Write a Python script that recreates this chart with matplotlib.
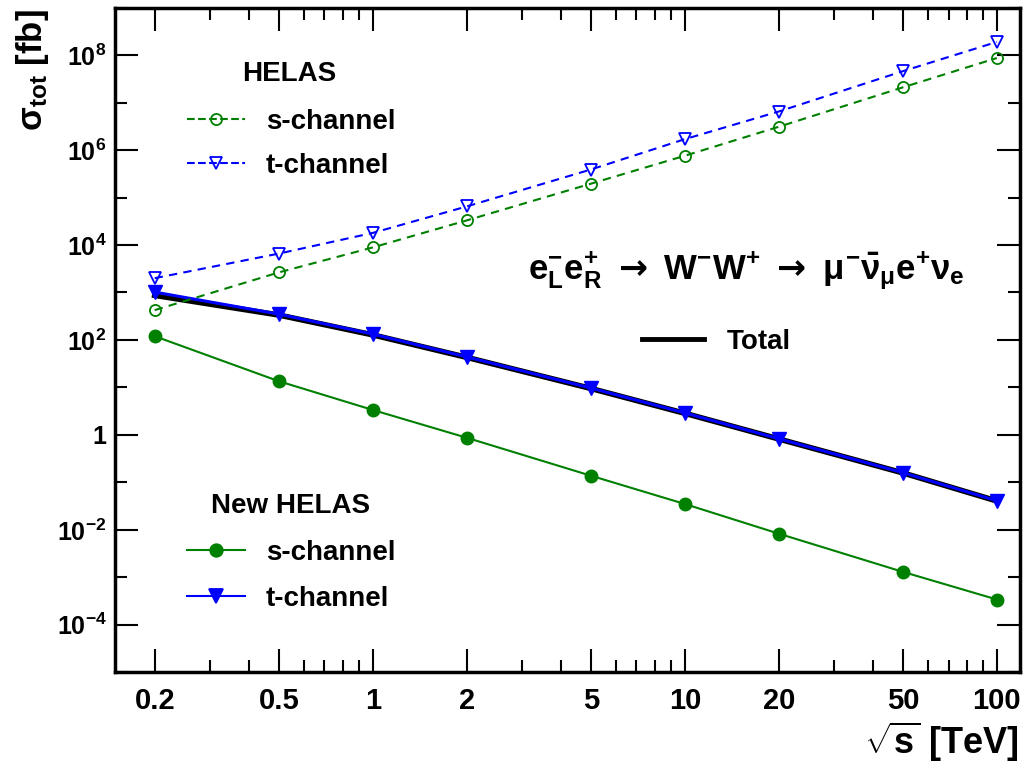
import matplotlib
matplotlib.use("Agg")
import matplotlib.pyplot as plt
from matplotlib.lines import Line2D
from matplotlib.ticker import FixedLocator, NullFormatter, FixedFormatter

plt.rcParams['font.family'] = ['Liberation Sans', 'DejaVu Sans']
plt.rcParams['font.weight'] = 'bold'
plt.rcParams['mathtext.fontset'] = 'custom'
plt.rcParams['mathtext.rm'] = 'Liberation Sans:bold'
plt.rcParams['mathtext.bf'] = 'Liberation Sans:bold'
plt.rcParams['mathtext.it'] = 'Liberation Sans'
plt.rcParams['mathtext.sf'] = 'DejaVu Sans'

# sqrt(s) in TeV
energies = [0.2, 0.5, 1, 2, 5, 10, 20, 50, 100]

# old HELAS (dashed, open markers)
helas_s = [425, 2650, 8900, 3.3e4, 1.96e5, 7.6e5, 3.1e6, 2.1e7, 8.7e7]
helas_t = [2000, 6600, 1.8e4, 6.5e4, 3.9e5, 1.7e6, 6.5e6, 4.6e7, 1.9e8]

# new HELAS (solid, filled markers)
new_s = [120, 13.5, 3.35, 0.87, 0.138, 0.035, 0.0083, 1.3e-3, 3.4e-4]
new_t = [1020, 350, 133, 44, 9.7, 2.9, 0.83, 0.16, 0.041]
total = [870, 335, 128, 43, 9.5, 2.85, 0.82, 0.158, 0.0405]

xtick_vals = [0.2, 0.5, 1, 2, 5, 10, 20, 50, 100]
xtick_labels = ['0.2', '0.5', '1', '2', '5', '10', '20', '50', '100']
xminor_vals = [0.3, 0.4, 0.6, 0.7, 0.8, 0.9, 3, 4, 6, 7, 8, 9, 30, 40, 60, 70, 80, 90]
ylabel_exps = [-4, -2, 0, 2, 4, 6, 8]
yminor_exps = [-5, -3, -1, 1, 3, 5, 7, 9]

fig = plt.figure(figsize=(10.25, 7.7), dpi=100)
ax = fig.add_axes([0.112, 0.127, 0.883, 0.863])

ax.plot(energies, total, color='black', lw=4.0, zorder=2)
ax.plot(energies, new_t, color='blue', lw=2.2, marker='v', ms=10, zorder=3)
ax.plot(energies, new_s, color='green', lw=1.5, marker='o', ms=9, zorder=3)
ax.plot(energies, helas_s, color='green', lw=1.5, ls='--', dashes=(4, 3),
        marker='o', ms=8, mfc='none', mew=1.3, zorder=3)
ax.plot(energies, helas_t, color='blue', lw=1.5, ls='--', dashes=(4, 3),
        marker='v', ms=9, mfc='none', mew=1.3, zorder=3)

ax.set_xscale('log')
ax.set_yscale('log')
ax.set_xlim(0.149, 118.5)
ax.set_ylim(1e-5, 1e9)

ax.xaxis.set_major_locator(FixedLocator(xtick_vals))
ax.xaxis.set_major_formatter(FixedFormatter(xtick_labels))
ax.xaxis.set_minor_locator(FixedLocator(xminor_vals))
ax.xaxis.set_minor_formatter(NullFormatter())

ylabels = ['1' if e == 0 else r'$\mathregular{10^{%d}}$' % e for e in ylabel_exps]
ax.yaxis.set_major_locator(FixedLocator([10.0 ** e for e in ylabel_exps]))
ax.yaxis.set_major_formatter(FixedFormatter(ylabels))
ax.yaxis.set_minor_locator(FixedLocator([10.0 ** e for e in yminor_exps]))
ax.yaxis.set_minor_formatter(NullFormatter())

ax.tick_params(which='both', direction='in', top=True, right=True, width=1.5)
ax.tick_params(which='major', length=16.5)
ax.tick_params(which='minor', length=8.5)
ax.tick_params(axis='x', which='major', labelsize=21, pad=11)
ax.tick_params(axis='y', which='major', labelsize=18, pad=6)
for sp in ax.spines.values():
    sp.set_linewidth(2.5)

ax.set_xlabel(r'$\sqrt{\mathregular{s}}$ [TeV]', fontsize=26, fontweight='bold')
ax.xaxis.set_label_coords(0.998, -0.072)
ax.xaxis.label.set_ha('right')
ax.xaxis.label.set_va('top')
ax.set_ylabel(r'$\mathregular{\sigma_{tot}}$ [fb]', fontsize=25, fontweight='bold')
ax.yaxis.set_label_coords(-0.071, 0.997)
ax.yaxis.label.set_ha('right')

# legends drawn by hand to match the ROOT layout
def legend_entry(y, color, ls, marker, ms, mfc, label):
    ax.add_line(Line2D([0.0796, 0.1436], [y, y], color=color, lw=1.5, ls=ls,
                       transform=ax.transAxes, clip_on=False))
    ax.add_line(Line2D([0.1116], [y], color=color, marker=marker, ms=ms, mfc=mfc,
                       mew=1.3, transform=ax.transAxes, clip_on=False))
    ax.text(0.167, y, label, transform=ax.transAxes, fontsize=20,
            ha='left', va='center_baseline')

ax.text(0.193, 0.904, 'HELAS', transform=ax.transAxes, fontsize=20,
        ha='center', va='center_baseline')
legend_entry(0.833, 'green', '--', 'o', 8, 'none', 's-channel')
legend_entry(0.767, 'blue', '--', 'v', 9, 'none', 't-channel')

ax.text(0.1945, 0.2545, 'New HELAS', transform=ax.transAxes, fontsize=20,
        ha='center', va='center_baseline')
legend_entry(0.1837, 'green', '-', 'o', 9, 'green', 's-channel')
legend_entry(0.1145, 'blue', '-', 'v', 10, 'blue', 't-channel')

ax.add_line(Line2D([0.5823, 0.6508], [0.5015, 0.5015], color='black', lw=3.5,
                   transform=ax.transAxes))
ax.text(0.676, 0.5015, 'Total', transform=ax.transAxes, fontsize=20,
        ha='left', va='center_baseline')

ax.text(0.939, 0.605,
        r'$\mathbf{e}_{\mathbf{L}}^{-}\mathbf{e}_{\mathbf{R}}^{+}\ \mathsf{\rightarrow}\ \mathbf{W}^{-}\mathbf{W}^{+}\ \mathsf{\rightarrow}\ \mu^{-}\bar{\nu}_{\mu}\mathbf{e}^{+}\nu_{\mathbf{e}}$',
        transform=ax.transAxes, ha='right', va='center', fontsize=25)

fig.savefig('out.png', dpi=100)
